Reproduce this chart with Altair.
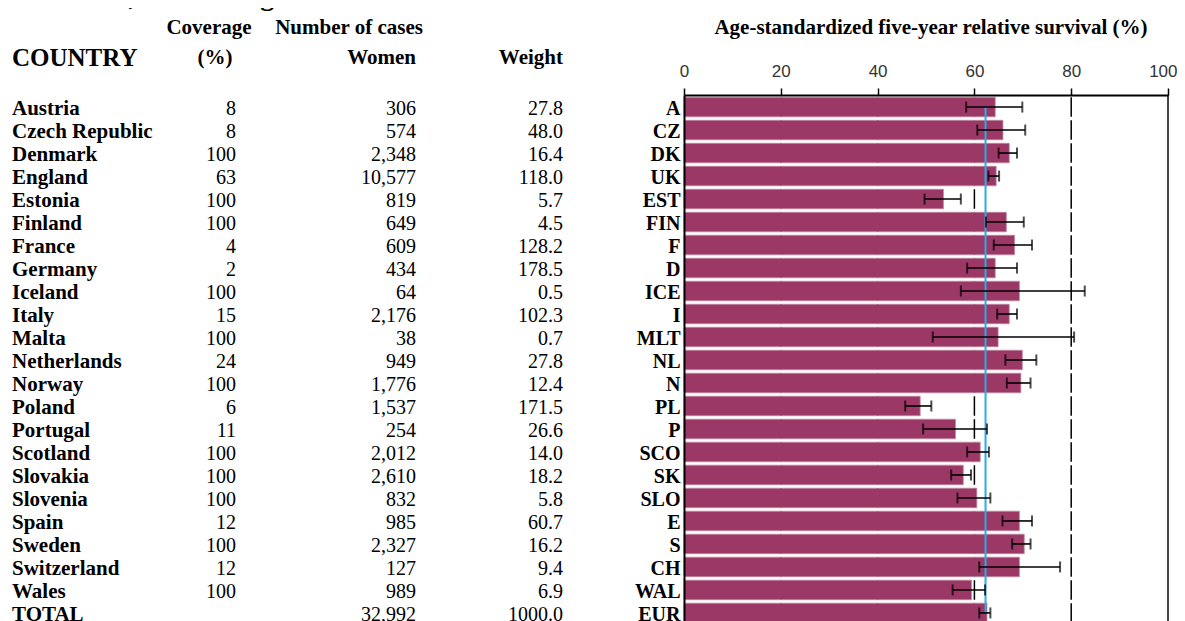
import altair as alt
import pandas as pd

# ---------------- data ----------------
countries = ["Austria", "Czech Republic", "Denmark", "England", "Estonia", "Finland",
             "France", "Germany", "Iceland", "Italy", "Malta", "Netherlands", "Norway",
             "Poland", "Portugal", "Scotland", "Slovakia", "Slovenia", "Spain", "Sweden",
             "Switzerland", "Wales", "TOTAL"]
codes = ["A", "CZ", "DK", "UK", "EST", "FIN", "F", "D", "ICE", "I", "MLT", "NL", "N",
         "PL", "P", "SCO", "SK", "SLO", "E", "S", "CH", "WAL", "EUR"]
coverage = [8, 8, 100, 63, 100, 100, 4, 2, 100, 15, 100, 24, 100, 6, 11, 100, 100, 100,
            12, 100, 12, 100, None]
women = [306, 574, 2348, 10577, 819, 649, 609, 434, 64, 2176, 38, 949, 1776, 1537, 254,
         2012, 2610, 832, 985, 2327, 127, 989, 32992]
weight = [27.8, 48.0, 16.4, 118.0, 5.7, 4.5, 128.2, 178.5, 0.5, 102.3, 0.7, 27.8, 12.4,
          171.5, 26.6, 14.0, 18.2, 5.8, 60.7, 16.2, 9.4, 6.9, 1000.0]
survival = [64.3, 65.9, 67.2, 64.5, 53.6, 66.6, 68.3, 64.3, 69.3, 67.2, 64.9, 69.9, 69.6,
            48.8, 56.1, 61.2, 57.7, 60.5, 69.3, 70.3, 69.3, 59.4, 62.6]
ci_low = [58.3, 60.6, 65.0, 62.9, 49.7, 62.4, 64.0, 58.5, 57.2, 64.7, 51.4, 66.4, 66.7,
          45.7, 49.4, 58.5, 55.2, 56.5, 65.8, 67.8, 61.0, 55.5, 61.0]
ci_high = [69.9, 70.5, 68.8, 65.1, 57.2, 70.2, 71.9, 68.8, 82.8, 68.8, 80.6, 72.8, 71.6,
           51.1, 62.6, 63.0, 59.3, 63.3, 71.9, 71.6, 77.7, 62.2, 63.3]
europe_mean = 62.3
axis_ticks = [0, 20, 40, 60, 80, 100]
grid_ticks = [20, 40, 60, 80]
axis_max = 100

title_text = "EUROPE, adults diagnosed 1990-94:"
header_labels = ["Coverage", "(%)", "Number of cases", "Women", "Weight", "COUNTRY",
                 "Age-standardized five-year relative survival (%)"]

df = pd.DataFrame({
    "country": countries, "code": codes, "coverage": coverage, "women": women,
    "weight": weight, "survival": survival, "lo": ci_low, "hi": ci_high,
})
grid_df = pd.DataFrame({"tick": grid_ticks})
border_df = pd.DataFrame({"m": [axis_max]})
mean_df = pd.DataFrame({"v": [europe_mean, europe_mean], "code": [codes[0], codes[-1]],
                        "o": [0, 1]})

SERIF = "Liberation Serif"
BAR = "#9B3866"
PLOT_W, PLOT_H = 484, 526

x_scale = alt.Scale(domain=[0, 100], nice=False)
x_axis = alt.Axis(
    title=None, orient="top", values=axis_ticks, labelFont="Liberation Sans",
    labelFontSize=17, labelColor="#333", labelPadding=8, labelFlush=False,
    labelAlign={"condition": {"test": "datum.value == 100", "value": "right"},
                "value": "center"},
    labelOffset={"condition": {"test": "datum.value == 100", "value": 9}, "value": 0},
    tickSize=7, tickColor="black", tickWidth=1.5, domainColor="black",
    domainWidth=2, grid=False, zindex=2)
y_scale = alt.Scale(domain=codes, range=[0, 530], paddingInner=0.15, paddingOuter=0.1)
y_axis = alt.Axis(title=None, orient="left", labelFont=SERIF, labelFontWeight="bold",
                  labelFontSize=20, labelColor="black", labelPadding=4, labelOffset=2,
                  ticks=False, domainColor="black", domainWidth=2, grid=False, zindex=2)


def Y():
    return alt.Y("code:N", sort=codes, scale=y_scale, axis=y_axis)


def X(field):
    return alt.X(field, scale=x_scale, axis=x_axis)


base = alt.Chart(df)

grid = alt.Chart(grid_df).mark_rule(color="black", strokeWidth=1.5,
                                    strokeDash=[19.5, 3.5], strokeDashOffset=20.65).encode(
    x=X("tick:Q"))

bars = base.mark_bar(color=BAR, stroke="#c08aa3", strokeWidth=0.8).encode(
    x=X("survival:Q"), y=Y())

mean_line = alt.Chart(mean_df).mark_line(color="#2AACE2", strokeWidth=2).encode(
    x=X("v:Q"), y=Y(), order="o:Q")

err = base.mark_rule(color="black", strokeWidth=1.6).encode(
    x=X("lo:Q"), x2="hi:Q", y=Y())
cap_lo = base.mark_tick(color="black", thickness=2, size=11, orient="vertical").encode(
    x=X("lo:Q"), y=Y())
cap_hi = base.mark_tick(color="black", thickness=2, size=11, orient="vertical").encode(
    x=X("hi:Q"), y=Y())

right_border = alt.Chart(border_df).mark_rule(color="#444", strokeWidth=2).encode(
    x=X("m:Q"))

# ----- table body -----
col_country = base.mark_text(align="left", baseline="middle", font=SERIF, fontSize=21,
                             fontWeight="bold", color="black", dy=2).encode(
    x=alt.value(-672), y=Y(), text="country:N")
col_cov = base.transform_filter("isValid(datum.coverage)").mark_text(
    align="right", baseline="middle", font=SERIF, fontSize=20, color="black", dy=2).encode(
    x=alt.value(-448), y=Y(), text=alt.Text("coverage:Q", format="d"))
col_women = base.mark_text(align="right", baseline="middle", font=SERIF, fontSize=20,
                           color="black", dy=2).encode(
    x=alt.value(-268), y=Y(), text=alt.Text("women:Q", format=","))
col_weight = base.mark_text(align="right", baseline="middle", font=SERIF, fontSize=20,
                            color="black", dy=2).encode(
    x=alt.value(-121), y=Y(), text=alt.Text("weight:Q", format=".1f"))


def header(label, x, y, align, size=21, baseline="middle"):
    return alt.Chart(pd.DataFrame({"t": [label]})).mark_text(
        align=align, baseline=baseline, font=SERIF, fontSize=size, fontWeight="bold",
        color="black").encode(x=alt.value(x), y=alt.value(y), text="t:N")


headers = [
    header(header_labels[0], -475, -67, "center"),
    header(header_labels[1], -469, -37, "center"),
    header(header_labels[2], -335, -67, "center"),
    header(header_labels[3], -268, -37, "right"),
    header(header_labels[4], -121, -37, "right"),
    header(header_labels[5], -672, -37, "left", size=25),
    header(header_labels[6], 247, -67, "center"),
    header(title_text, -672, -90, "left", size=28, baseline="alphabetic"),
]

chart = alt.layer(
    grid, bars, mean_line, err, cap_lo, cap_hi, right_border,
    col_country, col_cov, col_women, col_weight, *headers
).properties(
    width=PLOT_W, height=PLOT_H,
    padding={"left": 676, "top": 87, "right": 9, "bottom": 0},
    autosize=alt.AutoSizeParams(type="none"),
    background="white",
).configure_view(stroke=None)

chart.save("out.html", embed_options={"renderer": "svg", "actions": False})
